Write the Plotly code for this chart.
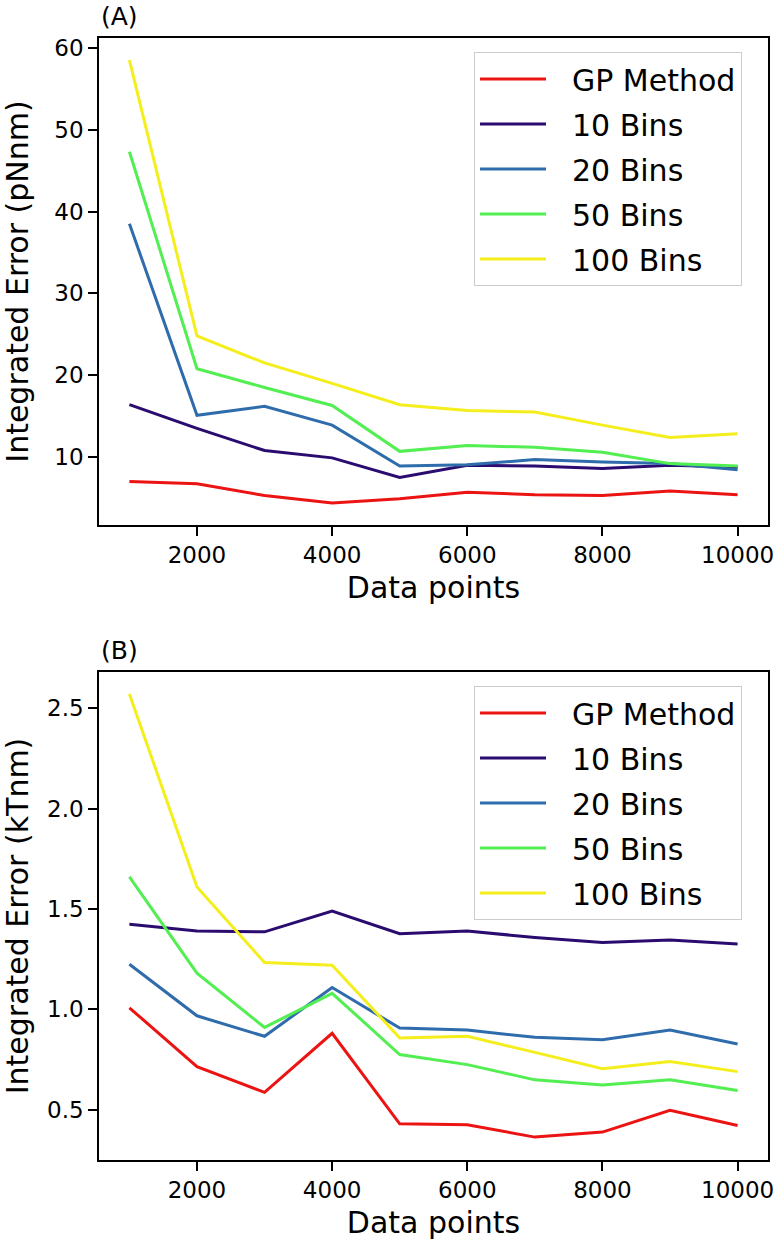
import plotly.graph_objects as go

# ---------------- data ----------------
data_points = [1000, 2000, 3000, 4000, 5000, 6000, 7000, 8000, 9000, 10000]
series_names = ["GP Method", "10 Bins", "20 Bins", "50 Bins", "100 Bins"]

# Panel (A): Integrated Error (pNnm)
gp_A = [7.0, 6.75, 5.3, 4.4, 4.9, 5.7, 5.4, 5.3, 5.85, 5.4]
bins10_A = [16.4, 13.5, 10.8, 9.9, 7.5, 9.0, 8.9, 8.6, 9.0, 8.8]
bins20_A = [38.5, 15.1, 16.2, 13.9, 8.9, 9.05, 9.7, 9.4, 9.2, 8.45]
bins50_A = [47.3, 20.8, 18.5, 16.3, 10.7, 11.4, 11.2, 10.6, 9.2, 8.9]
bins100_A = [58.5, 24.8, 21.5, 19.0, 16.4, 15.7, 15.5, 13.9, 12.4, 12.85]

# Panel (B): Integrated Error (kTnm)
gp_B = [1.008, 0.715, 0.587, 0.881, 0.430, 0.426, 0.364, 0.389, 0.498, 0.422]
bins10_B = [1.424, 1.390, 1.386, 1.490, 1.377, 1.390, 1.358, 1.333, 1.346, 1.326]
bins20_B = [1.225, 0.968, 0.866, 1.109, 0.907, 0.897, 0.861, 0.849, 0.897, 0.828]
bins50_B = [1.660, 1.180, 0.910, 1.080, 0.775, 0.725, 0.649, 0.624, 0.649, 0.596]
bins100_B = [2.570, 1.610, 1.233, 1.220, 0.858, 0.866, 0.786, 0.704, 0.740, 0.690]

x_ticks = [2000, 4000, 6000, 8000, 10000]
x_ticktext = ["2000", "4000", "6000", "8000", "10000"]
yA_ticks = [10, 20, 30, 40, 50, 60]
yB_ticks = [0.5, 1.0, 1.5, 2.0, 2.5]

colors = ["#ec1313", "#2a0b6f", "#2f6cab", "#52ee52", "#f4ee1c"]

FONT = "DejaVu Sans"
W, H = 777, 1242

fig = go.Figure()

panelA = [gp_A, bins10_A, bins20_A, bins50_A, bins100_A]
panelB = [gp_B, bins10_B, bins20_B, bins50_B, bins100_B]

LEG_PAD = "\u2002\u2009"

for name, vals, c in zip(series_names, panelA, colors):
    fig.add_trace(go.Scatter(x=data_points, y=vals, mode="lines", name=LEG_PAD + name,
                             line=dict(color=c, width=3),
                             xaxis="x", yaxis="y", legend="legend",
                             legendgroup="A_" + name))
for name, vals, c in zip(series_names, panelB, colors):
    fig.add_trace(go.Scatter(x=data_points, y=vals, mode="lines", name=LEG_PAD + name,
                             line=dict(color=c, width=3),
                             xaxis="x2", yaxis="y2", legend="legend2",
                             legendgroup="B_" + name))

def px_x(p):
    return p / W

def px_y(p):
    return 1 - p / H

xdom = [px_x(99), px_x(768)]
axis_common = dict(showline=True, linecolor="black", linewidth=1.6, mirror=True,
                   ticks="outside", ticklen=9, tickwidth=1.6, tickcolor="black",
                   showgrid=False, zeroline=False, ticklabeloverflow="allow",
                   automargin=False,
                   tickfont=dict(family=FONT, size=23, color="black"))

legend_common = dict(xanchor="left", yanchor="top",
                     bgcolor="rgba(255,255,255,0.8)", bordercolor="#cccccc", borderwidth=1,
                     font=dict(family=FONT, size=30, color="black"),
                     tracegroupgap=3, itemwidth=66)

fig.update_layout(
    width=W, height=H,
    margin=dict(l=0, r=0, t=0, b=0),
    paper_bgcolor="white", plot_bgcolor="white",
    font=dict(family=FONT, color="black"),
    xaxis=dict(domain=xdom, anchor="y", range=[550, 10450], tickvals=x_ticks,
               ticktext=x_ticktext,
               title=dict(text="Data points", font=dict(size=30), standoff=10),
               **axis_common),
    yaxis=dict(domain=[px_y(525), px_y(38)], anchor="x", range=[1.7, 61.2],
               tickvals=yA_ticks,
               title=dict(text="Integrated Error (pNnm)", font=dict(size=30), standoff=25),
               **axis_common),
    xaxis2=dict(domain=xdom, anchor="y2", range=[550, 10450], tickvals=x_ticks,
                ticktext=x_ticktext,
                title=dict(text="Data points", font=dict(size=30), standoff=10),
                **axis_common),
    yaxis2=dict(domain=[px_y(1160), px_y(672)], anchor="x2", range=[0.25, 2.68],
                tickvals=yB_ticks, tickformat=".1f",
                title=dict(text="Integrated Error (kTnm)", font=dict(size=30), standoff=25),
                **axis_common),
    legend=dict(x=px_x(474), y=px_y(52), **legend_common),
    legend2=dict(x=px_x(474), y=px_y(686), **legend_common),
    annotations=[
        dict(text="(A)", x=px_x(99), y=px_y(17), xref="paper", yref="paper",
             xanchor="left", yanchor="middle", showarrow=False,
             font=dict(family=FONT, size=25, color="black")),
        dict(text="(B)", x=px_x(99), y=px_y(650), xref="paper", yref="paper",
             xanchor="left", yanchor="middle", showarrow=False,
             font=dict(family=FONT, size=25, color="black")),
    ],
)

# remove the browser's default 8px body margin so the figure fills the window exactly
fig.write_html("out.html",
               config={"displayModeBar": False},
               post_script="document.body.style.margin='0';document.body.style.overflow='hidden';")
